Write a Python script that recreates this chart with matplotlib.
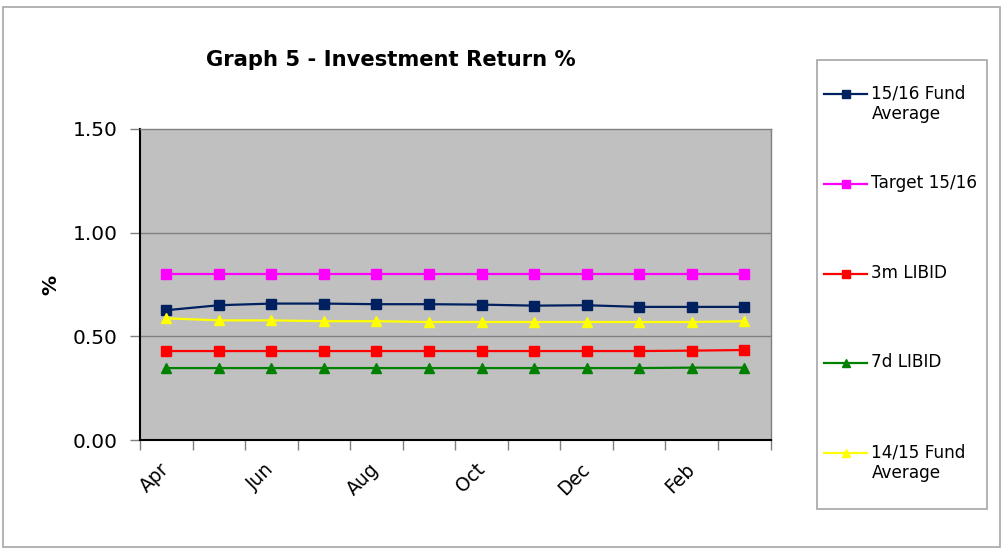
import matplotlib
matplotlib.use("Agg")
import matplotlib.pyplot as plt
from matplotlib.patches import Rectangle
from matplotlib.ticker import FixedLocator, FuncFormatter

months = ["Apr", "May", "Jun", "Jul", "Aug", "Sep", "Oct", "Nov", "Dec", "Jan", "Feb", "Mar"]
fund_1516 = [0.626, 0.650, 0.658, 0.658, 0.655, 0.655, 0.653, 0.648, 0.650, 0.642, 0.642, 0.642]
target_1516 = [0.80] * 12
libid_3m = [0.429, 0.429, 0.429, 0.429, 0.429, 0.429, 0.429, 0.429, 0.429, 0.429, 0.431, 0.434]
libid_7d = [0.347, 0.347, 0.347, 0.347, 0.347, 0.347, 0.347, 0.347, 0.347, 0.347, 0.349, 0.349]
fund_1415 = [0.587, 0.577, 0.577, 0.573, 0.573, 0.569, 0.569, 0.569, 0.569, 0.569, 0.569, 0.573]
labels = ["15/16 Fund\nAverage", "Target 15/16\n", "3m LIBID\n", "7d LIBID\n", "14/15 Fund\nAverage"]
y_ticks = [0.0, 0.5, 1.0, 1.5]

W, H = 1002, 550
fig = plt.figure(figsize=(W / 100, H / 100), dpi=100)
fig.patch.set_facecolor("white")

# outer border
fig.add_artist(Rectangle((2.5 / W, 1 - 547 / H), (1000 - 2.5) / W, (547 - 7) / H,
                         transform=fig.transFigure, fill=False, edgecolor="#A6A6A6", lw=1.2))

ax = fig.add_axes([140 / W, 1 - 440 / H, (770.5 - 140) / W, (440 - 129) / H])
ax.set_facecolor("#C0C0C0")

x = list(range(len(months)))
series = [
    (fund_1516, "#002060", "s"),
    (target_1516, "#FF00FF", "s"),
    (libid_3m, "#FF0000", "s"),
    (libid_7d, "#008000", "^"),
    (fund_1415, "#FFFF00", "^"),
]
handles = []
for vals, col, mk in series:
    h, = ax.plot(x, vals, color=col, marker=mk, markersize=7.8, lw=1.6,
                 markerfacecolor=col, markeredgecolor=col)
    handles.append(h)

ax.set_xlim(-0.5, len(months) - 0.5)
ax.set_ylim(0, 1.5)
ax.set_yticks(y_ticks)
ax.yaxis.set_major_formatter(FuncFormatter(lambda v, p: f"{v:.2f}"))
for yv in y_ticks[1:-1]:
    ax.axhline(yv, color="#808080", lw=1.0, zorder=0.5)

ax.set_xticks(x[::2])
ax.set_xticklabels(months[::2], rotation=45, ha="right", va="center", rotation_mode="anchor")
ax.xaxis.set_minor_locator(FixedLocator([i - 0.5 for i in range(len(months) + 1)]))
ax.tick_params(axis="x", which="major", length=0, pad=19, labelsize=13.5)
ax.tick_params(axis="x", which="minor", length=7, color="#808080", width=1)
ax.tick_params(axis="y", which="major", length=7, color="#808080", width=1, pad=9, labelsize=14.5)

for s in ["top", "right"]:
    ax.spines[s].set_color("#808080")
    ax.spines[s].set_linewidth(1.0)
for s in ["left", "bottom"]:
    ax.spines[s].set_color("black")
    ax.spines[s].set_linewidth(1.5)

fig.text(51 / W, 1 - 285 / H, "%", rotation=90, ha="center", va="center",
         fontsize=14.5, fontweight="bold")
fig.text(391 / W, 1 - 60 / H, "Graph 5 - Investment Return %", ha="center", va="center",
         fontsize=15.2, fontweight="bold")

# legend frame
fig.add_artist(Rectangle((817 / W, 1 - 509 / H), (987 - 817) / W, (509 - 60) / H,
                         transform=fig.transFigure, fill=False, edgecolor="#A6A6A6", lw=1.2))

leg = fig.legend(handles, labels, loc="upper left", bbox_to_anchor=(824 / W, 1 - 74 / H),
                 bbox_transform=fig.transFigure, frameon=False, fontsize=12.2,
                 borderpad=0, borderaxespad=0, handlelength=2.55, handletextpad=0.25,
                 labelspacing=3.0, markerscale=0.7)
for t in leg.get_texts():
    t.set_position((0, -10.5))

fig.savefig("out.png", dpi=100, facecolor="white")
